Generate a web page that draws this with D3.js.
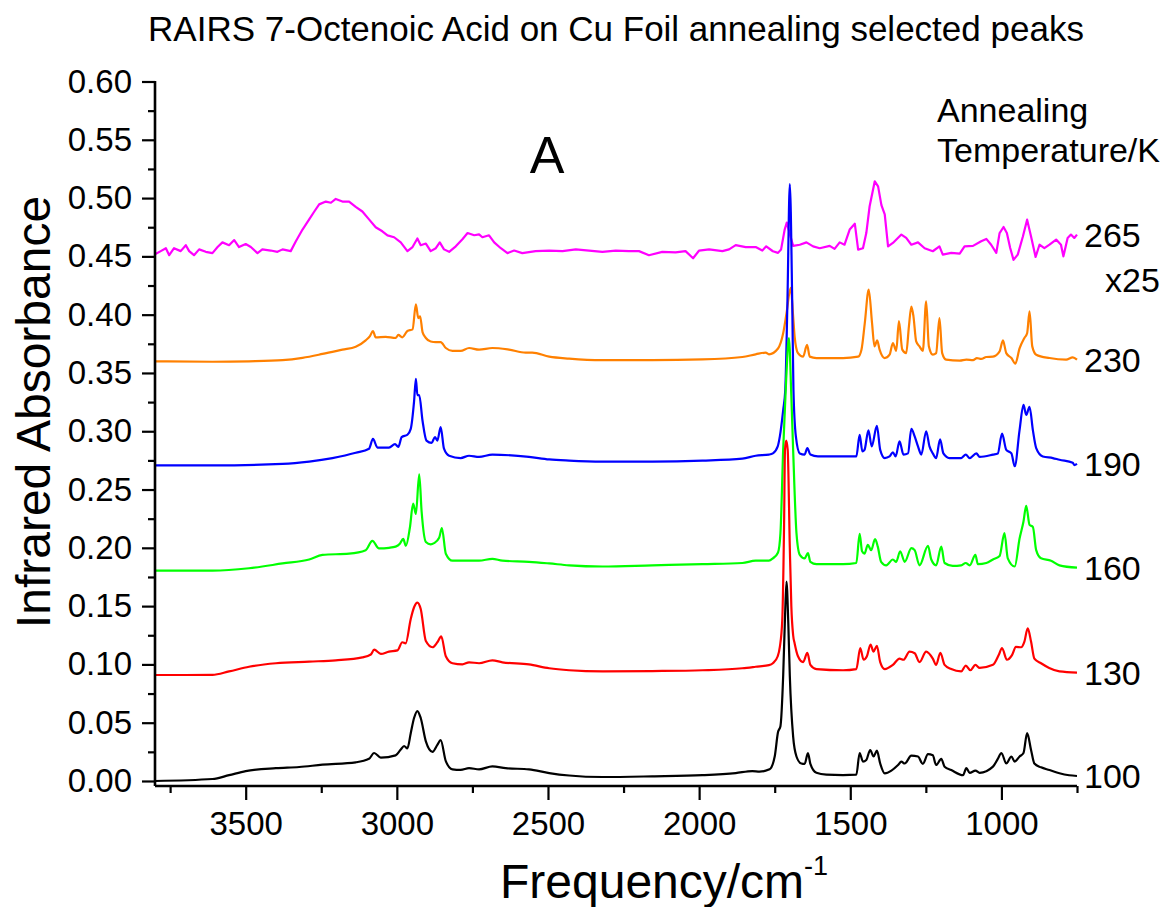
<!DOCTYPE html>
<html>
<head>
<meta charset="utf-8">
<script src="https://cdn.jsdelivr.net/npm/d3@7"></script>
<style>
  html, body { margin: 0; padding: 0; background: #fff; }
  svg { display: block; font-family: Arial, "Liberation Sans", sans-serif; }
</style>
</head>
<body>
<svg id="chart" width="1175" height="907"></svg>
<script>
// ---------------- data ----------------
const chartTitle = "RAIRS 7-Octenoic Acid on Cu Foil annealing selected peaks";
const xTickValues = [3500, 3000, 2500, 2000, 1500, 1000];
const xMinorValues = [3750, 3250, 2750, 2250, 1750, 1250, 750];
const yTickValues = [0.00, 0.05, 0.10, 0.15, 0.20, 0.25, 0.30, 0.35, 0.40, 0.45, 0.50, 0.55, 0.60];
const seriesLabels = ["265", "230", "190", "160", "130", "100"];
const seriesColors = ["#ff00ff", "#ff8000", "#0000ff", "#00ff00", "#ff0000", "#000000"];

const s265 = [[3800,0.4518],[3781,0.4545],[3764,0.457],[3753,0.451],[3737,0.457],[3715,0.4545],[3698,0.4596],[3687,0.4545],[3671,0.451],[3654,0.456],[3632,0.4539],[3610,0.4528],[3593,0.458],[3577,0.462],[3555,0.4596],[3538,0.464],[3522,0.458],[3500,0.4606],[3483,0.458],[3461,0.4528],[3445,0.456],[3417,0.455],[3395,0.4539],[3378,0.456],[3351,0.4545],[3334,0.463],[3312,0.473],[3290,0.4817],[3273,0.4885],[3257,0.4946],[3235,0.497],[3218,0.496],[3202,0.4993],[3180,0.497],[3158,0.497],[3136,0.4925],[3114,0.4885],[3092,0.4817],[3070,0.475],[3048,0.4715],[3031,0.468],[3009,0.4664],[2987,0.462],[2965,0.4545],[2948,0.458],[2932,0.4654],[2921,0.4596],[2904,0.461],[2888,0.4545],[2871,0.457],[2858,0.462],[2844,0.456],[2827,0.4539],[2805,0.4586],[2783,0.4647],[2766,0.470],[2744,0.4681],[2728,0.4688],[2717,0.4664],[2695,0.4681],[2678,0.462],[2656,0.457],[2634,0.4528],[2612,0.455],[2585,0.4528],[2541,0.4545],[2496,0.455],[2452,0.4545],[2408,0.456],[2364,0.455],[2320,0.4539],[2276,0.455],[2232,0.4545],[2199,0.4545],[2166,0.451],[2122,0.4539],[2078,0.4535],[2045,0.4545],[2020,0.4484],[2000,0.455],[1967,0.456],[1923,0.4545],[1901,0.456],[1879,0.4596],[1846,0.458],[1813,0.458],[1791,0.455],[1778,0.4586],[1756,0.4544],[1739,0.453],[1729,0.4558],[1717,0.473],[1710,0.479],[1701,0.470],[1689,0.459],[1667,0.460],[1645,0.462],[1623,0.4586],[1601,0.457],[1568,0.459],[1552,0.4564],[1535,0.462],[1519,0.460],[1502,0.473],[1485,0.478],[1474,0.4558],[1458,0.457],[1447,0.470],[1436,0.493],[1419,0.5144],[1408,0.510],[1397,0.494],[1386,0.486],[1375,0.4586],[1359,0.4615],[1331,0.4687],[1315,0.4658],[1298,0.460],[1276,0.462],[1254,0.457],[1227,0.4544],[1205,0.4586],[1194,0.4515],[1166,0.453],[1138,0.4523],[1122,0.4586],[1094,0.459],[1067,0.463],[1050,0.465],[1034,0.460],[1017,0.453],[1006,0.470],[993,0.4752],[982,0.470],[971,0.4572],[960,0.447],[946,0.4515],[929,0.467],[915,0.4815],[902,0.467],[887,0.4495],[874,0.460],[858,0.457],[841,0.460],[819,0.4644],[803,0.460],[795,0.450],[781,0.4658],[770,0.4687],[759,0.4658],[750,0.4687]];

const s230 = [[3800,0.360],[3610,0.3596],[3489,0.360],[3378,0.361],[3312,0.363],[3246,0.3663],[3180,0.370],[3136,0.3725],[3103,0.378],[3089,0.3816],[3079,0.386],[3070,0.3806],[3037,0.381],[3004,0.380],[2995,0.3826],[2982,0.3806],[2965,0.386],[2948,0.3874],[2937,0.4088],[2929,0.397],[2923,0.3986],[2915,0.385],[2904,0.380],[2888,0.377],[2871,0.3765],[2855,0.3765],[2838,0.3714],[2816,0.369],[2789,0.369],[2761,0.3714],[2728,0.370],[2684,0.3714],[2629,0.370],[2574,0.3674],[2552,0.3674],[2496,0.364],[2430,0.3623],[2320,0.361],[2155,0.361],[1989,0.3616],[1857,0.3637],[1813,0.366],[1780,0.3674],[1769,0.366],[1739,0.371],[1722,0.384],[1711,0.401],[1697,0.423],[1689,0.3986],[1684,0.381],[1673,0.367],[1656,0.364],[1643,0.374],[1634,0.364],[1612,0.3628],[1524,0.3628],[1474,0.364],[1463,0.370],[1452,0.3928],[1439,0.4215],[1428,0.3928],[1420,0.3728],[1411,0.378],[1403,0.370],[1386,0.3628],[1370,0.3657],[1359,0.3757],[1348,0.369],[1339,0.3944],[1328,0.370],[1315,0.367],[1306,0.390],[1298,0.407],[1291,0.3986],[1282,0.377],[1271,0.3728],[1260,0.369],[1249,0.4114],[1240,0.3728],[1227,0.3657],[1216,0.367],[1205,0.397],[1196,0.367],[1183,0.3614],[1138,0.3605],[1116,0.3614],[1094,0.361],[1081,0.3628],[1067,0.362],[1050,0.3637],[1028,0.364],[1006,0.3685],[995,0.378],[984,0.367],[967,0.3628],[954,0.358],[940,0.371],[924,0.380],[915,0.384],[907,0.4028],[898,0.3728],[885,0.3657],[841,0.3628],[786,0.3614],[764,0.3634],[750,0.3614]];

const s190 = [[3800,0.2707],[3610,0.2707],[3378,0.272],[3290,0.274],[3213,0.277],[3136,0.2815],[3092,0.285],[3079,0.2934],[3064,0.286],[3026,0.286],[3006,0.289],[2995,0.2866],[2984,0.295],[2965,0.297],[2954,0.302],[2943,0.3256],[2937,0.345],[2932,0.331],[2926,0.331],[2915,0.309],[2902,0.292],[2885,0.290],[2874,0.295],[2866,0.292],[2855,0.3036],[2844,0.285],[2827,0.279],[2789,0.277],[2761,0.279],[2728,0.278],[2684,0.280],[2563,0.278],[2496,0.2758],[2430,0.2748],[2320,0.274],[2155,0.274],[1989,0.2748],[1857,0.2765],[1813,0.279],[1769,0.280],[1756,0.281],[1740,0.287],[1733,0.2956],[1722,0.318],[1715,0.3356],[1708,0.41],[1700,0.512],[1692,0.41],[1688,0.3356],[1680,0.2956],[1667,0.281],[1651,0.280],[1642,0.2856],[1632,0.280],[1607,0.2784],[1480,0.2784],[1469,0.297],[1460,0.2827],[1453,0.284],[1440,0.3007],[1429,0.287],[1412,0.3047],[1401,0.284],[1386,0.277],[1370,0.2784],[1359,0.282],[1350,0.2784],[1337,0.2913],[1324,0.280],[1309,0.281],[1298,0.302],[1287,0.2956],[1276,0.287],[1265,0.280],[1249,0.300],[1238,0.287],[1227,0.281],[1216,0.277],[1203,0.293],[1192,0.281],[1172,0.277],[1133,0.277],[1118,0.280],[1105,0.277],[1083,0.281],[1072,0.278],[1028,0.280],[1012,0.281],[998,0.2979],[984,0.284],[967,0.281],[956,0.270],[940,0.301],[927,0.3227],[918,0.314],[907,0.321],[896,0.301],[885,0.2856],[863,0.2784],[830,0.277],[808,0.2755],[764,0.273],[759,0.271],[750,0.272]];

const s160 = [[3800,0.1805],[3610,0.1805],[3489,0.1825],[3378,0.1866],[3290,0.190],[3246,0.194],[3158,0.195],[3103,0.198],[3081,0.206],[3059,0.1995],[3026,0.200],[3004,0.201],[2990,0.2035],[2979,0.2076],[2970,0.2018],[2957,0.217],[2946,0.238],[2937,0.229],[2926,0.263],[2918,0.231],[2904,0.205],[2888,0.203],[2877,0.204],[2860,0.2086],[2851,0.217],[2838,0.195],[2816,0.189],[2783,0.189],[2728,0.189],[2684,0.1906],[2651,0.189],[2563,0.188],[2496,0.1866],[2430,0.185],[2320,0.184],[2155,0.185],[1989,0.186],[1857,0.187],[1813,0.189],[1769,0.189],[1756,0.191],[1739,0.196],[1731,0.2126],[1722,0.284],[1712,0.345],[1703,0.38],[1695,0.33],[1689,0.284],[1678,0.2126],[1667,0.194],[1651,0.191],[1640,0.1954],[1632,0.188],[1612,0.186],[1524,0.186],[1480,0.187],[1469,0.212],[1461,0.197],[1453,0.195],[1442,0.2026],[1431,0.198],[1418,0.2074],[1409,0.201],[1398,0.188],[1381,0.185],[1359,0.19],[1348,0.188],[1335,0.197],[1320,0.188],[1298,0.1997],[1287,0.198],[1271,0.185],[1243,0.2017],[1232,0.19],[1216,0.185],[1199,0.201],[1188,0.187],[1161,0.1845],[1133,0.185],[1118,0.187],[1105,0.185],[1086,0.194],[1078,0.186],[1050,0.187],[1028,0.19],[1006,0.193],[990,0.2126],[979,0.191],[956,0.184],[940,0.208],[927,0.2226],[918,0.236],[907,0.2197],[896,0.218],[885,0.198],[869,0.191],[836,0.189],[808,0.185],[750,0.183]];

const s130 = [[3800,0.0909],[3610,0.091],[3555,0.094],[3489,0.098],[3400,0.101],[3290,0.1024],[3202,0.1035],[3114,0.106],[3086,0.1085],[3075,0.1126],[3053,0.109],[3026,0.111],[2998,0.112],[2982,0.119],[2971,0.118],[2954,0.139],[2943,0.149],[2932,0.153],[2921,0.1475],[2904,0.120],[2882,0.1147],[2866,0.119],[2853,0.124],[2838,0.107],[2816,0.101],[2783,0.100],[2761,0.1018],[2728,0.101],[2684,0.1035],[2651,0.1018],[2563,0.100],[2496,0.0967],[2430,0.095],[2320,0.094],[2155,0.0943],[1989,0.095],[1857,0.0967],[1813,0.098],[1769,0.0994],[1756,0.101],[1740,0.107],[1733,0.115],[1725,0.138],[1719,0.22],[1716,0.284],[1712,0.292],[1707,0.284],[1700,0.20],[1695,0.15],[1689,0.125],[1684,0.118],[1673,0.107],[1656,0.102],[1642,0.110],[1632,0.0996],[1612,0.096],[1524,0.095],[1480,0.096],[1467,0.114],[1456,0.104],[1445,0.107],[1433,0.117],[1423,0.111],[1412,0.116],[1401,0.102],[1386,0.096],[1359,0.0996],[1337,0.105],[1324,0.104],[1304,0.111],[1287,0.1096],[1271,0.102],[1249,0.111],[1227,0.105],[1216,0.0996],[1202,0.110],[1188,0.0996],[1166,0.096],[1133,0.094],[1118,0.099],[1103,0.095],[1086,0.0996],[1072,0.097],[1028,0.0996],[1009,0.108],[998,0.114],[982,0.104],[965,0.108],[952,0.115],[935,0.1147],[924,0.1196],[913,0.131],[902,0.1196],[891,0.105],[869,0.101],[842,0.097],[808,0.094],[750,0.093]];

const s100 = [[3800,0.000],[3610,0.0017],[3555,0.005],[3500,0.0085],[3400,0.011],[3323,0.012],[3246,0.014],[3136,0.016],[3092,0.019],[3075,0.024],[3053,0.020],[3004,0.022],[2987,0.027],[2976,0.030],[2965,0.028],[2954,0.041],[2943,0.054],[2932,0.060],[2921,0.054],[2904,0.034],[2882,0.025],[2866,0.031],[2855,0.035],[2838,0.017],[2816,0.010],[2789,0.0095],[2761,0.011],[2728,0.010],[2684,0.0125],[2640,0.011],[2563,0.010],[2496,0.0068],[2430,0.0047],[2320,0.0034],[2155,0.004],[1989,0.005],[1879,0.0068],[1824,0.0085],[1800,0.008],[1767,0.010],[1750,0.021],[1739,0.042],[1731,0.047],[1722,0.090],[1716,0.140],[1711,0.171],[1705,0.135],[1700,0.090],[1689,0.038],[1678,0.021],[1662,0.015],[1651,0.0146],[1640,0.024],[1632,0.0146],[1612,0.007],[1579,0.0054],[1524,0.005],[1480,0.0054],[1469,0.024],[1458,0.0166],[1447,0.018],[1434,0.0266],[1423,0.021],[1412,0.026],[1401,0.015],[1386,0.0066],[1364,0.0089],[1342,0.0137],[1331,0.0166],[1320,0.015],[1298,0.0217],[1276,0.021],[1260,0.0146],[1243,0.023],[1227,0.022],[1216,0.0137],[1199,0.019],[1188,0.0123],[1166,0.0094],[1127,0.005],[1116,0.011],[1105,0.007],[1086,0.0089],[1072,0.007],[1028,0.0123],[1012,0.019],[1000,0.024],[984,0.015],[967,0.021],[956,0.0166],[940,0.021],[927,0.024],[915,0.041],[902,0.0266],[891,0.015],[869,0.0117],[841,0.0094],[808,0.0066],[776,0.0049],[750,0.0043]];

const seriesData = [s265, s230, s190, s160, s130, s100];

// ---------------- layout ----------------
const svg = d3.select("#chart");
const FONT = 'Arial, "Liberation Sans", sans-serif';
const x = d3.scaleLinear().domain([3800, 750]).range([155, 1077]);
const y = d3.scaleLinear().domain([-0.0043, 0.60]).range([786, 81.5]);

// title
svg.append("text")
  .attr("x", 616).attr("y", 41)
  .attr("text-anchor", "middle")
  .style("font-size", "35px").style("font-family", FONT)
  .text(chartTitle);

// curves (top series first so lower ones overlay)
const lineSmooth = d3.line().x(d => x(d[0])).y(d => y(d[1])).curve(d3.curveMonotoneX);
const lineNoisy = d3.line().x(d => x(d[0])).y(d => y(d[1])).curve(d3.curveLinear);
seriesData.forEach((s, i) => {
  svg.append("path").datum(s)
    .attr("fill", "none")
    .attr("stroke", seriesColors[i])
    .attr("stroke-width", 2.2)
    .attr("stroke-linejoin", "round")
    .attr("d", i === 0 ? lineNoisy : lineSmooth);
});

// axes
const gx = svg.append("g").attr("transform", "translate(0,786)")
  .call(d3.axisBottom(x).tickValues(xTickValues).tickSize(14).tickPadding(12).tickFormat(d3.format("d")));
const gxm = svg.append("g").attr("transform", "translate(0,786)")
  .call(d3.axisBottom(x).tickValues(xMinorValues).tickSize(7).tickFormat(""));
const yMinor = d3.range(0.025, 0.6, 0.05);
const gy = svg.append("g").attr("transform", "translate(155,0)")
  .call(d3.axisLeft(y).tickValues(yTickValues).tickSize(13).tickPadding(10).tickFormat(d3.format(".2f")));
const gym = svg.append("g").attr("transform", "translate(155,0)")
  .call(d3.axisLeft(y).tickValues(yMinor).tickSize(7).tickFormat(""));

[gx, gxm, gy, gym].forEach(g => {
  g.selectAll(".domain").attr("stroke", "#000").attr("stroke-width", 2.6);
  g.selectAll(".tick line").attr("stroke", "#000").attr("stroke-width", 2.2);
  g.selectAll("text").style("font-size", "33px").style("font-family", FONT).attr("fill", "#000");
});
gxm.select(".domain").remove();
gym.select(".domain").remove();
gx.select(".domain").attr("d", "M155,0H1077");
gy.select(".domain").attr("d", "M0,81H0V786");

// axis titles
svg.append("text")
  .attr("transform", "translate(50,412) rotate(-90)")
  .attr("text-anchor", "middle")
  .style("font-size", "48px").style("font-family", FONT)
  .text("Infrared Absorbance");

const xt = svg.append("text")
  .attr("x", 500).attr("y", 898)
  .style("font-size", "48px").style("font-family", FONT);
xt.append("tspan").text("Frequency/cm");
xt.append("tspan").attr("dy", -23).style("font-size", "27px").text("-1");

// "A"
svg.append("text").attr("x", 547).attr("y", 173)
  .attr("text-anchor", "middle")
  .style("font-size", "52px").style("font-family", FONT)
  .text("A");

// legend header
svg.append("text").attr("x", 937).attr("y", 122)
  .style("font-size", "34px").style("font-family", FONT).text("Annealing");
svg.append("text").attr("x", 937).attr("y", 162)
  .style("font-size", "34px").style("font-family", FONT).text("Temperature/K");

// series end labels
seriesData.forEach((s, i) => {
  const last = s[s.length - 1];
  svg.append("text")
    .attr("x", 1084).attr("y", y(last[1]) + 12)
    .style("font-size", "34px").style("font-family", FONT)
    .text(seriesLabels[i]);
});
svg.append("text").attr("x", 1105).attr("y", 292)
  .style("font-size", "34px").style("font-family", FONT).text("x25");
</script>
</body>
</html>
